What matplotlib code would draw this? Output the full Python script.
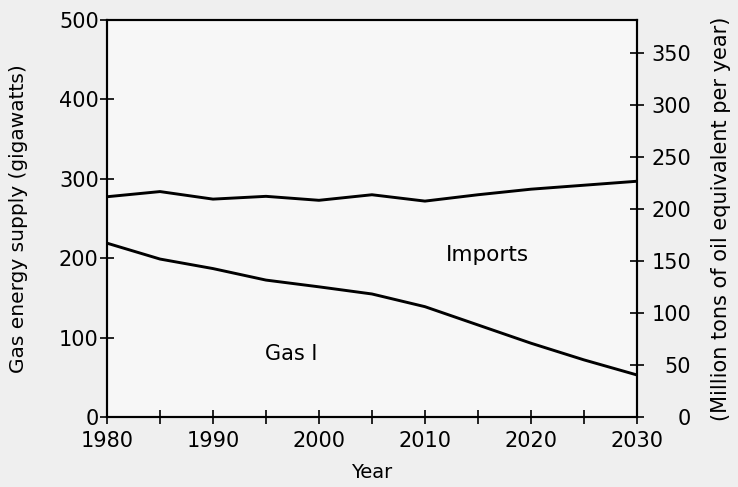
import matplotlib.pyplot as plt

# values (gigawatts)
years = [1980, 1985, 1990, 1995, 2000, 2005, 2010, 2015, 2020, 2025, 2030]
total_supply = [277.5, 284, 274.5, 278, 273, 280, 272, 280, 287, 292, 297]
gas_domestic = [219, 199, 187, 172.5, 164, 155, 139, 116, 93, 72, 53]

gw_ticks = [0, 100, 200, 300, 400, 500]
mtoe_ticks = [0, 50, 100, 150, 200, 250, 300, 350]
gw_to_mtoe = 0.764

plt.rcParams['font.family'] = ['DejaVu Sans']

fig = plt.figure(figsize=(7.38, 4.87), dpi=100, facecolor='#efefef')
ax = fig.add_axes([0.145, 0.1437, 0.718, 0.815])
ax.set_facecolor('#f7f7f7')

ax.plot(years, total_supply, color='black', lw=2.1)
ax.plot(years, gas_domestic, color='black', lw=2.1)

ax.text(2015.9, 204, 'Imports', fontsize=15.5, ha='center', va='center')
ax.text(1997.4, 79.5, 'Gas I', fontsize=15, ha='center', va='center')

ax.set_xlim(1980, 2030)
ax.set_ylim(0, 500)
ax.set_xticks(range(1980, 2031, 5))
ax.set_xticklabels([str(y) if y % 10 == 0 else '' for y in range(1980, 2031, 5)])
ax.set_yticks(gw_ticks)
ax.tick_params(axis='x', direction='inout', length=10, width=1.2, labelsize=15, pad=5)
ax.tick_params(axis='y', direction='inout', length=10, width=1.2, labelsize=15, pad=1)
ax.set_ylabel('Gas energy supply (gigawatts)', fontsize=14.5, labelpad=22)
ax.set_xlabel('Year', fontsize=14, labelpad=9)
for s in ax.spines.values():
    s.set_linewidth(1.5)

ax2 = ax.twinx()
ax2.set_ylim(0, 500 * gw_to_mtoe)
ax2.set_yticks(mtoe_ticks)
ax2.tick_params(direction='inout', length=10, width=1.2, labelsize=15, pad=34)
for lbl in ax2.get_yticklabels():
    lbl.set_horizontalalignment('right')
ax2.set_ylabel('(Million tons of oil equivalent per year)', fontsize=15, labelpad=14)
for s in ax2.spines.values():
    s.set_linewidth(1.5)

fig.savefig('out.png', dpi=100, facecolor=fig.get_facecolor())
